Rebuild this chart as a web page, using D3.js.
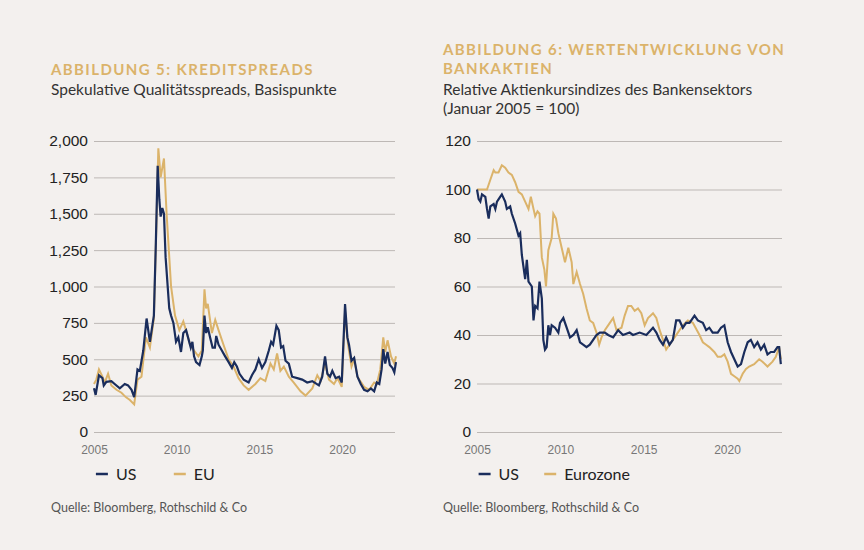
<!DOCTYPE html>
<html><head><meta charset="utf-8">
<script src="https://cdn.jsdelivr.net/npm/d3@7"></script>
<style>body{margin:0;background:#f3f0ee;font-family:Lato,"Open Sans",sans-serif}</style>
</head><body><div id="c"></div>
<script>
// Abbildung 5: Kreditspreads (Jahr, Basispunkte)
const spreadUS = [[2005.00,300],[2005.10,255],[2005.30,390],[2005.51,370],[2005.59,320],[2005.75,345],[2006.05,350],[2006.25,330],[2006.56,300],[2006.86,330],[2007.06,320],[2007.27,290],[2007.43,240],[2007.63,430],[2007.77,420],[2007.98,560],[2008.18,780],[2008.38,620],[2008.62,800],[2008.74,1300],[2008.85,1830],[2008.95,1600],[2009.03,1480],[2009.13,1540],[2009.23,1500],[2009.33,1200],[2009.55,850],[2009.66,800],[2009.80,750],[2009.96,620],[2010.10,650],[2010.26,550],[2010.40,680],[2010.57,700],[2010.71,640],[2010.85,580],[2010.95,620],[2011.05,520],[2011.17,480],[2011.38,460],[2011.52,520],[2011.58,560],[2011.68,800],[2011.78,680],[2011.88,720],[2012.02,650],[2012.17,580],[2012.31,580],[2012.39,660],[2012.53,600],[2012.73,560],[2012.93,520],[2013.14,480],[2013.34,440],[2013.48,480],[2013.64,450],[2013.80,400],[2014.05,360],[2014.35,340],[2014.55,390],[2014.76,430],[2014.96,500],[2015.16,440],[2015.36,480],[2015.57,560],[2015.71,620],[2015.83,600],[2016.03,730],[2016.17,700],[2016.31,580],[2016.44,590],[2016.58,490],[2016.78,470],[2016.98,380],[2017.29,370],[2017.59,360],[2017.89,340],[2018.20,350],[2018.60,320],[2018.80,380],[2018.97,520],[2019.11,400],[2019.27,380],[2019.41,420],[2019.61,370],[2019.82,380],[2019.98,340],[2020.18,880],[2020.32,650],[2020.42,600],[2020.57,490],[2020.73,510],[2020.93,380],[2021.13,330],[2021.33,290],[2021.54,280],[2021.74,300],[2021.94,280],[2022.10,340],[2022.25,330],[2022.39,430],[2022.49,570],[2022.61,470],[2022.75,550],[2022.89,460],[2023.05,440],[2023.16,410],[2023.26,480]];
const spreadEU = [[2005.00,330],[2005.14,360],[2005.30,430],[2005.51,380],[2005.65,340],[2005.85,400],[2006.05,320],[2006.36,290],[2006.66,270],[2006.92,240],[2007.17,220],[2007.43,190],[2007.63,360],[2007.87,380],[2008.14,650],[2008.38,580],[2008.62,780],[2008.79,1500],[2008.89,1950],[2009.03,1750],[2009.23,1880],[2009.39,1500],[2009.66,1000],[2009.90,800],[2010.16,700],[2010.40,760],[2010.61,680],[2010.81,600],[2011.05,560],[2011.31,520],[2011.52,560],[2011.68,980],[2011.78,850],[2011.88,880],[2012.13,680],[2012.33,770],[2012.53,700],[2012.83,600],[2013.14,500],[2013.44,450],[2013.74,370],[2014.05,320],[2014.35,290],[2014.76,330],[2015.06,370],[2015.36,350],[2015.67,470],[2015.87,430],[2016.07,540],[2016.27,420],[2016.48,450],[2016.78,380],[2017.08,340],[2017.49,280],[2017.79,250],[2018.20,300],[2018.50,390],[2018.70,350],[2018.97,470],[2019.21,360],[2019.51,330],[2019.72,370],[2019.98,310],[2020.18,830],[2020.36,600],[2020.57,450],[2020.73,500],[2020.93,380],[2021.33,310],[2021.64,290],[2021.94,340],[2022.10,330],[2022.31,430],[2022.49,650],[2022.61,550],[2022.75,630],[2022.96,520],[2023.16,470],[2023.26,520]];
// Abbildung 6: Bankaktien (Januar 2005 = 100)
const bankUS = [[2005.00,100],[2005.10,96],[2005.20,95],[2005.30,98],[2005.50,97],[2005.60,92],[2005.70,88],[2005.80,93],[2006.00,94],[2006.10,92],[2006.20,95],[2006.39,97],[2006.49,98],[2006.69,95],[2006.79,92],[2006.99,93],[2007.09,90],[2007.29,86],[2007.49,81],[2007.59,82],[2007.69,73],[2007.89,63],[2007.99,71],[2008.09,62],[2008.29,60],[2008.39,46],[2008.49,52],[2008.63,51],[2008.75,62],[2008.89,55],[2008.98,38],[2009.08,34],[2009.18,35],[2009.28,44],[2009.38,40],[2009.48,44],[2009.68,43],[2009.88,41],[2009.98,45],[2010.18,47],[2010.38,43],[2010.58,39],[2010.78,40],[2010.98,42],[2011.18,37],[2011.37,36],[2011.57,35],[2011.77,36],[2011.97,38],[2012.17,40],[2012.37,41],[2012.67,41],[2012.87,40],[2013.17,39],[2013.47,42],[2013.76,40],[2014.16,41],[2014.36,40],[2014.76,41],[2015.16,40],[2015.56,43],[2015.76,41],[2015.96,38],[2016.16,36],[2016.35,39],[2016.55,36],[2016.75,38],[2016.95,46],[2017.15,46],[2017.35,43],[2017.55,45],[2017.75,45],[2018.05,48],[2018.25,46],[2018.55,45],[2018.75,42],[2018.94,43],[2019.14,41],[2019.44,41],[2019.64,43],[2019.84,44],[2020.04,37],[2020.24,33],[2020.44,30],[2020.64,27],[2020.84,28],[2021.04,33],[2021.24,37],[2021.43,38],[2021.63,35],[2021.83,37],[2022.03,34],[2022.23,36],[2022.43,32],[2022.63,33],[2022.83,33],[2023.03,35],[2023.13,35],[2023.23,28]];
const bankEZ = [[2005.00,100],[2005.40,100],[2005.60,100],[2005.80,104],[2006.00,108],[2006.10,107],[2006.29,107],[2006.49,110],[2006.69,109],[2006.89,107],[2007.09,106],[2007.29,103],[2007.49,99],[2007.69,98],[2007.89,95],[2008.09,92],[2008.23,97],[2008.39,92],[2008.49,89],[2008.63,91],[2008.75,90],[2008.89,72],[2009.04,67],[2009.14,60],[2009.28,75],[2009.48,80],[2009.58,90],[2009.74,88],[2009.88,82],[2010.08,76],[2010.28,70],[2010.48,76],[2010.68,70],[2010.78,61],[2010.98,66],[2011.18,61],[2011.37,57],[2011.57,51],[2011.77,46],[2011.97,45],[2012.17,41],[2012.33,36],[2012.47,39],[2012.67,42],[2012.97,45],[2013.17,47],[2013.37,42],[2013.67,43],[2013.86,48],[2014.06,52],[2014.26,52],[2014.46,50],[2014.66,51],[2014.86,49],[2015.06,44],[2015.26,47],[2015.56,49],[2015.76,47],[2015.96,42],[2016.16,38],[2016.35,34],[2016.55,36],[2016.75,38],[2017.05,41],[2017.35,44],[2017.65,46],[2017.95,45],[2018.35,40],[2018.55,37],[2018.75,36],[2018.94,35],[2019.24,33],[2019.44,31],[2019.64,31],[2019.84,32],[2020.04,29],[2020.24,24],[2020.44,23],[2020.64,22],[2020.74,21],[2020.94,24],[2021.14,26],[2021.33,27],[2021.63,28],[2021.93,30],[2022.13,29],[2022.43,27],[2022.73,29],[2022.93,31],[2023.13,35],[2023.23,30]];
const yearTicks = [2005, 2010, 2015, 2020];
const spreadTicks = [0, 250, 500, 750, 1000, 1250, 1500, 1750, 2000];
const bankTicks = [0, 20, 40, 60, 80, 100, 120];

const navy = "#1a2d5c", gold = "#dbb36a", grey = "#777";
const svg = d3.select("#c").append("svg").attr("width", 864).attr("height", 550);
svg.append("rect").attr("width", 864).attr("height", 550).attr("fill", "#f3f0ee");

function panel(o) {
  const g = svg.append("g");
  o.title.forEach((t, i) => g.append("text").attr("x", o.tx).attr("y", o.ty + i * 19)
    .attr("fill", gold).attr("font-weight", 700).attr("font-size", 15).attr("letter-spacing", 1.4).text(t));
  o.sub.forEach((t, i) => g.append("text").attr("x", o.tx).attr("y", o.sy + i * 19)
    .attr("fill", "#333").attr("font-size", 15.5).text(t));

  const x = d3.scaleLinear().domain([2005, o.xEnd]).range([o.x0, o.x1]);
  const y = d3.scaleLinear().domain([0, o.yMax]).range([432, 141]);

  const ya = g.append("g").attr("transform", `translate(${o.x0},0)`)
    .call(d3.axisLeft(y).tickValues(o.yTicks).tickSize(-(o.x1 - o.x0)).tickPadding(6).tickFormat(d3.format(",")));
  ya.select(".domain").remove();
  ya.selectAll("line").attr("stroke", "#bdb8b5");
  ya.selectAll("text").attr("font-size", 15.5).attr("fill", "#222").attr("font-family", "inherit");

  const xa = g.append("g").attr("transform", "translate(0,451)")
    .call(d3.axisBottom(x).tickValues(yearTicks).tickSize(0).tickFormat(d3.format("d")));
  xa.select(".domain").remove();
  xa.selectAll("text").attr("font-size", 12).attr("fill", grey).attr("font-family", "inherit").attr("dy", 0);

  const line = d3.line().x(d => x(d[0])).y(d => y(d[1]));
  g.append("path").datum(o.b).attr("d", line).attr("fill", "none").attr("stroke", gold).attr("stroke-width", 2);
  g.append("path").datum(o.a).attr("d", line).attr("fill", "none").attr("stroke", navy).attr("stroke-width", 2.2);

  o.legend.forEach((l, i) => {
    const lx = o.x0 + (i ? 84 : 2) * (o.legW || 1);
    g.append("line").attr("x1", lx).attr("x2", lx + 12).attr("y1", 474).attr("y2", 474)
      .attr("stroke", i ? gold : navy).attr("stroke-width", 2.5);
    g.append("text").attr("x", lx + 20).attr("y", 480).attr("font-size", 16).attr("fill", "#222").text(l);
  });
  g.append("text").attr("x", o.tx).attr("y", 512).attr("font-size", 12.5).attr("fill", "#555")
    .text("Quelle: Bloomberg, Rothschild & Co");
}

panel({ title: ["ABBILDUNG 5: KREDITSPREADS"], sub: ["Spekulative Qualitätsspreads, Basispunkte"],
  tx: 51, ty: 75, sy: 95, x0: 94, x1: 395, xEnd: 2023.2, yMax: 2000, yTicks: spreadTicks,
  a: spreadUS, b: spreadEU, legend: ["US", "EU"], legW: 0.95 });
panel({ title: ["ABBILDUNG 6: WERTENTWICKLUNG VON", "BANKAKTIEN"], sub: ["Relative Aktienkursindizes des Bankensektors", "(Januar 2005 = 100)"],
  tx: 443, ty: 55, sy: 95, x0: 477, x1: 782, xEnd: 2023.3, yMax: 120, yTicks: bankTicks,
  a: bankUS, b: bankEZ, legend: ["US", "Eurozone"], legW: 0.8 });
</script></body></html>
